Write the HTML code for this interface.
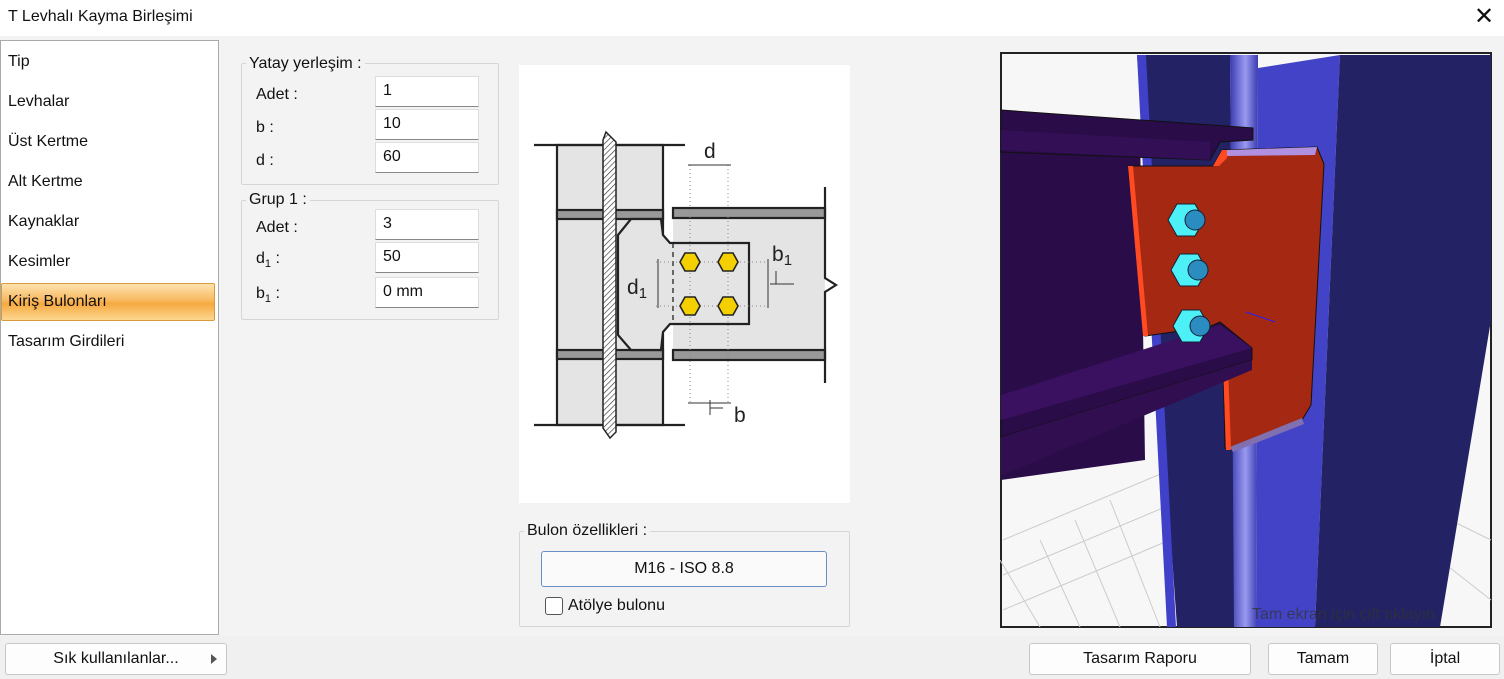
<!DOCTYPE html>
<html><head><meta charset="utf-8"><style>
*{box-sizing:border-box;margin:0;padding:0}
body{width:1504px;height:679px;background:#f3f3f3;font-family:"Liberation Sans","DejaVu Sans",sans-serif;font-size:15px;color:#111;position:relative;overflow:hidden}
.a{position:absolute}
.title{left:0;top:0;width:1504px;height:36px;background:#fff}
.list{left:0;top:40px;width:219px;height:595px;background:#fff;border:1px solid #aaa}
.it{position:absolute;left:8px;font-size:16px}
.sel{left:1px;top:283px;width:214px;height:38px;background:linear-gradient(#fde3b0,#f8b960 45%,#f6a93f 55%,#fcd790);border:1px solid #d99a3a;border-radius:2px}
.grp{border:1px solid #d6d6d6;border-radius:2px}
.lbl{position:absolute;font-size:16px;background:#f3f3f3;padding:0 3px}
.inp{position:absolute;left:375px;width:104px;height:31px;background:#fff;border:1px solid #ddd;border-bottom:1px solid #888;padding:5px 7px;font-size:16px}
.btn{position:absolute;background:#fdfdfd;border:1px solid #c8c8c8;border-radius:3px;text-align:center;font-size:16px;line-height:30px}
</style></head><body>
<div class="a title"></div>
<div class="a" style="left:8px;top:8px;font-size:16px">T Levhalı Kayma Birleşimi</div>
<div class="a" style="left:1474px;top:2px;font-size:24px;font-weight:300">✕</div>

<div class="a list"></div>
<div class="a sel"></div>
<div class="it" style="top:53px">Tip</div>
<div class="it" style="top:93px">Levhalar</div>
<div class="it" style="top:133px">Üst Kertme</div>
<div class="it" style="top:173px">Alt Kertme</div>
<div class="it" style="top:213px">Kaynaklar</div>
<div class="it" style="top:253px">Kesimler</div>
<div class="it" style="top:293px">Kiriş Bulonları</div>
<div class="it" style="top:333px">Tasarım Girdileri</div>

<div class="a grp" style="left:241px;top:63px;width:258px;height:122px"></div>
<div class="lbl" style="left:246px;top:55px">Yatay yerleşim :</div>
<div class="a" style="left:256px;top:86px;font-size:16px">Adet :</div>
<div class="a" style="left:256px;top:119px;font-size:16px">b :</div>
<div class="a" style="left:256px;top:152px;font-size:16px">d :</div>
<div class="inp" style="top:76px">1</div>
<div class="inp" style="top:109px">10</div>
<div class="inp" style="top:142px">60</div>

<div class="a grp" style="left:241px;top:200px;width:258px;height:120px"></div>
<div class="lbl" style="left:246px;top:191px">Grup 1 :</div>
<div class="a" style="left:256px;top:219px;font-size:16px">Adet :</div>
<div class="a" style="left:256px;top:250px;font-size:16px">d<sub style="font-size:11px">1</sub> :</div>
<div class="a" style="left:256px;top:285px;font-size:16px">b<sub style="font-size:11px">1</sub> :</div>
<div class="inp" style="top:209px">3</div>
<div class="inp" style="top:242px">50</div>
<div class="inp" style="top:277px">0 mm</div>

<div class="a" style="left:519px;top:65px;width:331px;height:438px;background:#fff"></div>
<svg class="a" style="left:518px;top:60px" width="335" height="380" viewBox="0 0 335 380">
<defs><pattern id="h" width="4" height="4" patternUnits="userSpaceOnUse" patternTransform="rotate(45)"><rect width="4" height="4" fill="#fff"/><line x1="0" y1="0" x2="0" y2="4" stroke="#333" stroke-width="1.3"/></pattern></defs>
<g stroke="#222" stroke-width="2.2">
<rect x="39" y="85" width="106" height="280" fill="#e4e4e4"/>
<line x1="16" y1="85" x2="167" y2="85"/><line x1="16" y1="365" x2="167" y2="365"/>
<rect x="39" y="150" width="106" height="9" fill="#999"/>
<rect x="39" y="290" width="106" height="9" fill="#999"/>
<rect x="155" y="158" width="152" height="132" fill="#e4e4e4" stroke="none"/>
<rect x="155" y="148" width="152" height="10" fill="#999"/>
<rect x="155" y="290" width="152" height="10" fill="#999"/>
<polyline points="307,127 307,218 318,225 307,232 307,323" fill="none"/>
<path d="M100,175 L113,159 L143,159 L145,175 L152,183 L231,183 L231,264 L152,264 L145,272 L143,290 L113,290 L100,275 Z" fill="#e4e4e4"/>
<line x1="155" y1="183" x2="155" y2="264" stroke-dasharray="5,4" stroke-width="1.3"/>
<path d="M88,72 L98,82 L98,372 L92,378 L85,368 L85,80 Z" fill="url(#h)" stroke-width="1.5"/>
</g>
<g stroke="#888" stroke-width="1" stroke-dasharray="1,3" fill="none">
<line x1="172" y1="105" x2="172" y2="345"/><line x1="210" y1="105" x2="210" y2="345"/>
<line x1="138" y1="202" x2="250" y2="202"/><line x1="138" y1="246" x2="250" y2="246"/>
</g>
<g stroke="#333" stroke-width="1">
<line x1="170" y1="105" x2="213" y2="105"/><line x1="170" y1="343" x2="213" y2="343"/>
<line x1="140" y1="199" x2="140" y2="248"/><line x1="250" y1="199" x2="250" y2="248"/>
<line x1="252" y1="224" x2="276" y2="224"/><line x1="258" y1="224" x2="258" y2="211"/>
<line x1="192" y1="340" x2="192" y2="355"/><line x1="192" y1="348" x2="205" y2="348"/>
</g>
<g fill="#f5d000" stroke="#222" stroke-width="1.6">
<polygon points="162,202 167,193 177,193 182,202 177,211 167,211"/>
<polygon points="200,202 205,193 215,193 220,202 215,211 205,211"/>
<polygon points="162,246 167,237 177,237 182,246 177,255 167,255"/>
<polygon points="200,246 205,237 215,237 220,246 215,255 205,255"/>
</g>
<g font-family="Liberation Sans,sans-serif" fill="#222">
<text x="186" y="98" font-size="21">d</text>
<text x="109" y="234" font-size="21">d<tspan font-size="15" dy="4">1</tspan></text>
<text x="254" y="201" font-size="21">b<tspan font-size="15" dy="4">1</tspan></text>
<text x="216" y="362" font-size="21">b</text>
</g>
</svg>

<div class="a grp" style="left:519px;top:531px;width:331px;height:96px"></div>
<div class="lbl" style="left:524px;top:522px">Bulon özellikleri :</div>
<div class="btn" style="left:541px;top:551px;width:286px;height:36px;line-height:34px;border:1px solid #6a8fc7;background:#fafafa">M16 - ISO 8.8</div>
<div class="a" style="left:545px;top:597px;width:18px;height:18px;border:1px solid #555;border-radius:3px;background:#fff"></div>
<div class="a" style="left:568px;top:597px;font-size:16px">Atölye bulonu</div>

<svg class="a" style="left:1000px;top:52px" width="493" height="577" viewBox="1000 52 493 577">
<rect x="1001" y="53" width="490" height="574" fill="#f7f7f7" stroke="#222" stroke-width="2"/>
<g stroke="#ccc" stroke-width="1" fill="none">
<path d="M1003,540 L1170,470 M1003,575 L1170,505 M1003,610 L1170,540 M1040,627 L1000,560 M1080,627 L1040,540 M1120,627 L1075,520 M1160,627 L1110,500 M1440,560 L1491,600 M1450,520 L1491,540"/>
</g>
<polygon points="1137,55 1230,55 1235,627 1177,627" fill="#222265"/>
<polygon points="1137,55 1146,55 1176,627 1167,627" fill="#4040c8"/>
<defs><linearGradient id="rod" x1="0" x2="1"><stop offset="0" stop-color="#3a3ab0"/><stop offset=".55" stop-color="#9a9af0"/><stop offset="1" stop-color="#3a3ab0"/></linearGradient></defs>
<polygon points="1230,55 1258,55 1256,627 1234,627" fill="url(#rod)"/>
<polygon points="1258,68 1340,55 1315,627 1256,627" fill="#4343c8"/>
<polygon points="1340,55 1491,55 1491,320 1440,627 1315,627" fill="#222265"/>
<polygon points="1001,120 1140,130 1145,460 1001,480" fill="#2a0c48"/>
<polygon points="1001,110 1253,128 1253,140 1220,142 1210,160 1001,152" fill="#2a0c48" stroke="#111" stroke-width="1"/>
<polygon points="1001,130 1210,142 1210,160 1001,150" fill="#330f55"/>
<polygon points="1128,166 1213,166 1222,150 1317,147 1324,164 1311,405 1302,420 1230,450 1225,448 1222,325 1145,336" fill="#a52812" stroke="#111" stroke-width="1"/>
<polygon points="1128,166 1133,166 1148,336 1143,336" fill="#ff4a22"/>
<polygon points="1222,150 1227,150 1227,158 1219,166 1213,166" fill="#ff4a22"/>
<polygon points="1223,365 1228,365 1231,450 1226,450" fill="#ff4a22"/>
<polygon points="1227,150 1317,147 1315,155 1227,156" fill="#b090e0"/>
<polygon points="1230,447 1302,418 1304,424 1233,452" fill="#8070b0"/>
<polygon points="1001,420 1220,322 1252,348 1252,360 1001,437" fill="#2a0c48" stroke="#111" stroke-width="1"/>
<polygon points="1001,395 1220,325 1252,348 1001,420" fill="#3a1060"/>
<polygon points="1001,437 1252,360 1252,370 1001,476" fill="#300e50"/>
<g stroke="#123" stroke-width="1">
<polygon points="1168,220 1177,204 1195,204 1204,220 1195,236 1177,236" fill="#4ef0f8"/><circle cx="1195" cy="220" r="10" fill="#2a8cc0"/>
<polygon points="1171,270 1180,254 1198,254 1207,270 1198,286 1180,286" fill="#4ef0f8"/><circle cx="1198" cy="270" r="10" fill="#2a8cc0"/>
<polygon points="1173,326 1182,310 1200,310 1209,326 1200,342 1182,342" fill="#4ef0f8"/><circle cx="1200" cy="326" r="10" fill="#2a8cc0"/>
</g>
<line x1="1246" y1="312" x2="1275" y2="322" stroke="#2020ff"/>
<text x="1252" y="619" font-family="Liberation Sans,sans-serif" font-size="16" fill="#333" fill-opacity=".75">Tam ekran için çift tıklayın.</text>
</svg>

<div class="a" style="left:0;top:636px;width:1504px;height:43px;background:#f0f0f0"></div>
<div class="btn" style="left:5px;top:643px;width:222px;height:32px">Sık kullanılanlar...</div>
<div class="a" style="left:211px;top:654px;width:0;height:0;border-left:6px solid #555;border-top:5px solid transparent;border-bottom:5px solid transparent"></div>
<div class="btn" style="left:1029px;top:643px;width:222px;height:32px">Tasarım Raporu</div>
<div class="btn" style="left:1268px;top:643px;width:110px;height:32px">Tamam</div>
<div class="btn" style="left:1390px;top:643px;width:110px;height:32px">İptal</div>
</body></html>
